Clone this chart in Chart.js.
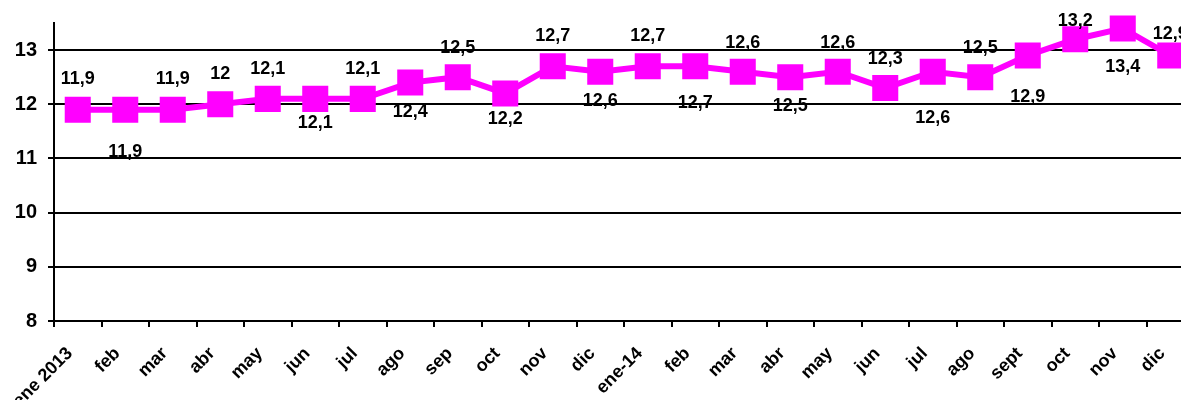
<!DOCTYPE html>
<html>
<head>
<meta charset="utf-8">
<script src="https://cdn.jsdelivr.net/npm/chart.js@4/dist/chart.umd.min.js"></script>
<style>
  html, body { margin: 0; padding: 0; background: #fff; overflow: hidden; }
  #wrap { width: 1213px; height: 400px; }
</style>
</head>
<body>
<div id="wrap"><canvas id="chart" width="1213" height="400"></canvas></div>
<script>
// meses ene 2013 - dic 2014
var months = ["ene 2013", "feb", "mar", "abr", "may", "jun", "jul", "ago", "sep", "oct", "nov", "dic",
              "ene-14", "feb", "mar", "abr", "may", "jun", "jul", "ago", "sept", "oct", "nov", "dic"];
var values = [11.9, 11.9, 11.9, 12, 12.1, 12.1, 12.1, 12.4, 12.5, 12.2, 12.7, 12.6,
              12.7, 12.7, 12.6, 12.5, 12.6, 12.3, 12.6, 12.5, 12.9, 13.2, 13.4, 12.9];
var yTicks = [8, 9, 10, 11, 12, 13];
// where each value label sits relative to its point (px, negative = above)
var labelOffsets = [-31, 42, -31, -30, -30, 24, -30, 29, -29, 26, -30, 29,
                    -30, 37, -29, 29, -29, -29, 46, -29, 42, -18, 39, -21];

var FONT = "'Liberation Sans', Arial, sans-serif";

var valueLabels = {
  id: 'valueLabels',
  afterDatasetsDraw: function(chart) {
    var ctx = chart.ctx;
    var meta = chart.getDatasetMeta(0);
    ctx.save();
    ctx.font = "bold 18px " + FONT;
    ctx.fillStyle = "#000";
    ctx.textAlign = "center";
    ctx.textBaseline = "middle";
    meta.data.forEach(function(pt, i) {
      var txt = String(values[i]).replace('.', ',');
      ctx.fillText(txt, pt.x, pt.y + labelOffsets[i]);
    });
    ctx.restore();
  }
};

new Chart(document.getElementById("chart"), {
  type: 'line',
  data: {
    labels: months,
    datasets: [{
      data: values,
      borderColor: "#ff00ff",
      backgroundColor: "#ff00ff",
      borderWidth: 6,
      pointStyle: 'rect',
      pointRadius: 17,
      pointHoverRadius: 17,
      pointBorderWidth: 2,
      pointBorderColor: "#ff00ff",
      pointBackgroundColor: "#ff00ff",
      tension: 0,
      fill: false,
      clip: false
    }]
  },
  options: {
    responsive: false,
    animation: false,
    events: [],
    layout: { padding: { top: 22, right: 7, left: 0, bottom: 0 } },
    plugins: {
      legend: { display: false },
      tooltip: { enabled: false },
      title: { display: false }
    },
    scales: {
      x: {
        offset: true,
        grid: { offset: true, drawOnChartArea: false, drawTicks: true, tickLength: 6, color: "#000", lineWidth: 2 },
        border: { display: true, color: "#000", width: 2 },
        ticks: {
          autoSkip: false,
          maxRotation: 45,
          minRotation: 45,
          padding: 16,
          labelOffset: -8,
          color: "#000",
          font: { family: FONT, size: 18, weight: 'bold' }
        },
        afterFit: function(scale) { scale.height = 79; }
      },
      y: {
        min: 8,
        max: 13.5,
        grid: { color: "#000", lineWidth: 2, tickLength: 6 },
        border: { display: true, color: "#000", width: 2 },
        ticks: {
          stepSize: 1,
          padding: 11,
          color: "#000",
          font: { family: FONT, size: 20, weight: 'bold' }
        },
        afterBuildTicks: function(scale) {
          scale.ticks = yTicks.map(function(v) { return { value: v }; });
        },
        afterFit: function(scale) { scale.width = 54; }
      }
    }
  },
  plugins: [valueLabels]
});
</script>
</body>
</html>
